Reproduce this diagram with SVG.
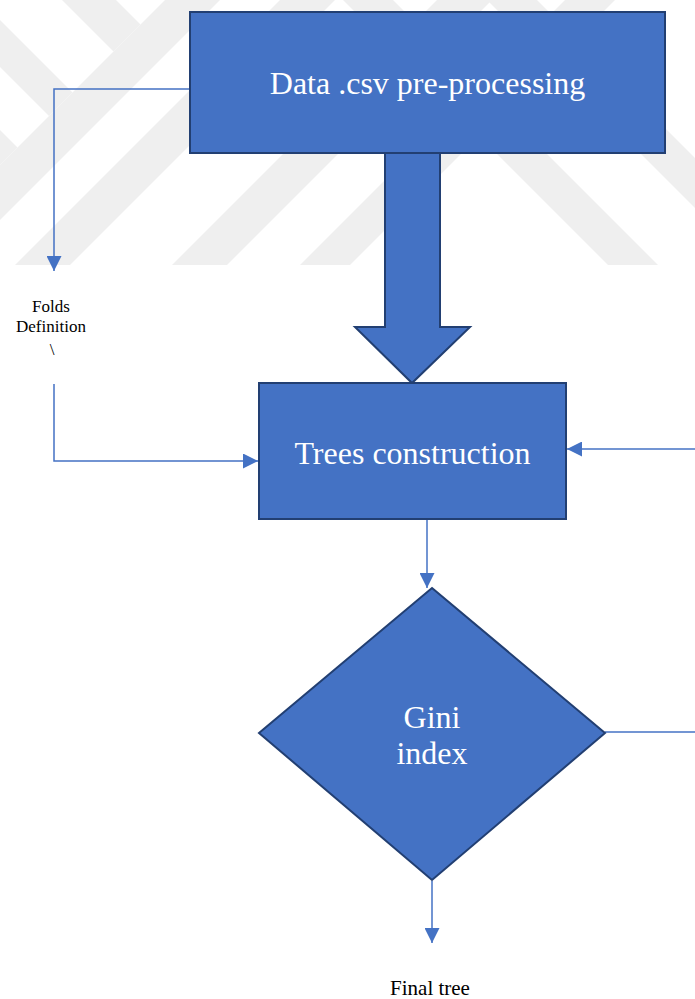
<svg xmlns="http://www.w3.org/2000/svg" width="695" height="999" viewBox="0 0 695 999">
  <defs>
    <style>
      .wm { fill: #efefef; }
      .node { fill: #4472c4; stroke: #223f72; stroke-width: 2; }
      .label { fill: #ffffff; font-family: "Liberation Serif", "Times New Roman", serif; font-size: 32px; text-anchor: middle; }
      .note { fill: #000000; font-family: "Liberation Serif", "Times New Roman", serif; text-anchor: middle; }
      .conn { fill: none; stroke: #4472c4; stroke-width: 1.5; }
    </style>
    <marker id="arrow" markerUnits="userSpaceOnUse" markerWidth="15" markerHeight="15" refX="15" refY="7.5" orient="auto">
      <path d="M0,0 L15,7.5 L0,15 Z" fill="#4472c4"/>
    </marker>
    <clipPath id="wmclip">
      <rect x="0" y="0" width="695" height="265"/>
    </clipPath>
  </defs>

  <rect x="0" y="0" width="695" height="999" fill="#ffffff"/>

  <g id="watermark" clip-path="url(#wmclip)">
    <polygon class="wm" points="-100,265 -45,265 220,0 165,0"/>
    <polygon class="wm" points="15,265 70,265 335,0 280,0"/>
    <polygon class="wm" points="172,265 227,265 492,0 437,0"/>
    <polygon class="wm" points="300,265 350,265 615,0 565,0"/>
    <polygon class="wm" points="62,0 116,0 140.5,24.5 113.5,51.5"/>
    <polygon class="wm" points="0,20 72.5,92.5 49,116 0,67"/>
    <polygon class="wm" points="0,130 17.5,147.5 0,165"/>
    <polygon class="wm" points="343,0 393,0 658,265 608,265"/>
    <polygon class="wm" points="487,0 537,0 802,265 752,265"/>
  </g>

  <g id="connectors">
    <path class="conn" d="M190,89 H54 V271" marker-end="url(#arrow)"/>
    <path class="conn" d="M54,384 V461 H258" marker-end="url(#arrow)"/>
    <path class="conn" d="M695,449 H567" marker-end="url(#arrow)"/>
    <path class="conn" d="M605,732 H695"/>
    <path class="conn" d="M427,520 V588" marker-end="url(#arrow)"/>
    <path class="conn" d="M432,881 V943" marker-end="url(#arrow)"/>
  </g>

  <g id="big-arrow">
    <polygon class="node" points="385,153 440,153 440,327 470,327 412,383 355,327 385,327"/>
  </g>

  <g id="data-preprocessing">
    <rect class="node" x="190" y="12" width="475" height="141"/>
    <text class="label" x="427.5" y="94">Data .csv pre-processing</text>
  </g>

  <g id="trees-construction">
    <rect class="node" x="259" y="383" width="307" height="136"/>
    <text class="label" x="412.5" y="464">Trees construction</text>
  </g>

  <g id="gini-index">
    <polygon class="node" points="432,588 605,733 432,880 259,733"/>
    <text class="label" x="432" y="728">Gini</text>
    <text class="label" x="432" y="764">index</text>
  </g>

  <g id="folds-definition">
    <text class="note" font-size="17" x="51" y="312">Folds</text>
    <text class="note" font-size="17" x="51" y="332">Definition</text>
    <text class="note" font-size="17" x="52" y="355">\</text>
  </g>

  <g id="final-tree">
    <text class="note" font-size="21" x="430" y="995">Final tree</text>
  </g>
</svg>
